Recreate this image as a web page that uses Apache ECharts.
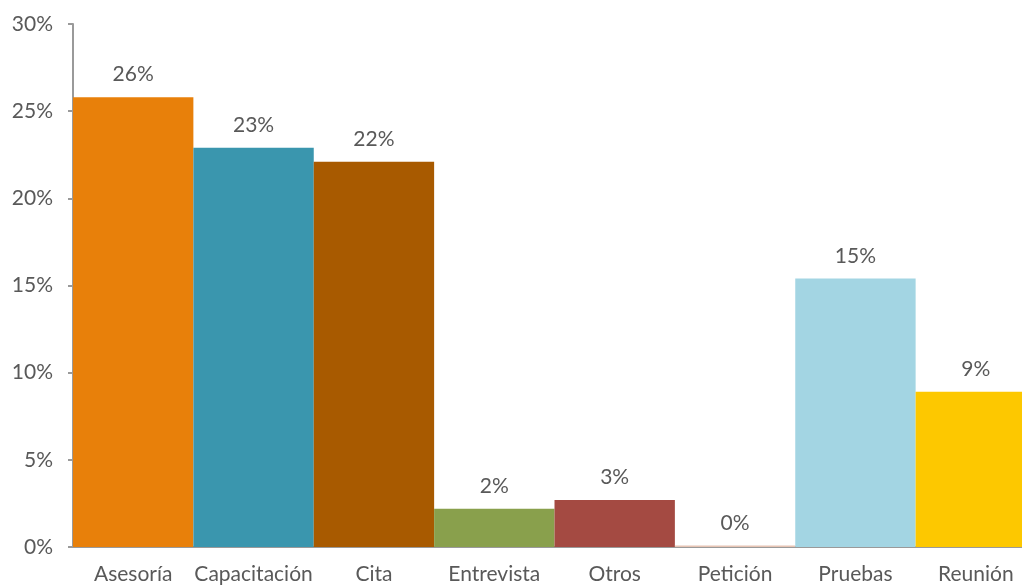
<!DOCTYPE html>
<html>
<head>
<meta charset="utf-8">
<script src="https://cdn.jsdelivr.net/npm/echarts@6/dist/echarts.min.js"></script>
<style>
  html, body { margin: 0; padding: 0; background: #fff; overflow: hidden; }
  #chart { width: 1022px; height: 585px; }
</style>
</head>
<body>
<div id="chart"></div>
<script>
// Share of requests by type, in percent.
const categories = ["Asesoría", "Capacitación", "Cita", "Entrevista", "Otros", "Petición", "Pruebas", "Reunión"];
const shares = [25.8, 22.9, 22.1, 2.2, 2.7, 0.08, 15.4, 8.9];
const barColors = ["#E8800A", "#3A96AE", "#A85A00", "#89A04C", "#A44A42", "#E6C4B4", "#A3D5E3", "#FDC800"];
const yTicks = [0, 5, 10, 15, 20, 25, 30];

const font = "Lato, 'Open Sans', sans-serif";
const textColor = "#595959";
const lineColor = "#9a9a9a";

const chart = echarts.init(document.getElementById("chart"));
chart.setOption({
  animation: false,
  // the last bar runs past the right edge in the original
  grid: { left: 73, width: 963, top: 24, bottom: 38, outerBoundsMode: "none", containLabel: false },
  xAxis: {
    type: "category",
    data: categories,
    axisLine: { lineStyle: { color: lineColor, width: 2 } },
    axisTick: { show: false },
    axisLabel: { color: textColor, fontFamily: font, fontSize: 21, margin: 17, interval: 0 }
  },
  yAxis: {
    type: "value",
    min: yTicks[0],
    max: yTicks[yTicks.length - 1],
    interval: 5,
    axisLine: { show: true, lineStyle: { color: lineColor, width: 2 } },
    axisTick: { show: true, length: 5, lineStyle: { color: lineColor, width: 2 } },
    splitLine: { show: false },
    axisLabel: { color: textColor, fontFamily: font, fontSize: 21, margin: 20, formatter: "{value}%" }
  },
  series: [{
    type: "bar",
    data: shares.map((v, i) => ({ value: v, itemStyle: { color: barColors[i] } })),
    barWidth: "100%",
    barCategoryGap: 0,
    label: {
      show: true,
      position: "top",
      distance: 12,
      color: textColor,
      fontFamily: font,
      fontSize: 21,
      formatter: (p) => Math.round(p.value) + "%"
    }
  }]
});
</script>
</body>
</html>
